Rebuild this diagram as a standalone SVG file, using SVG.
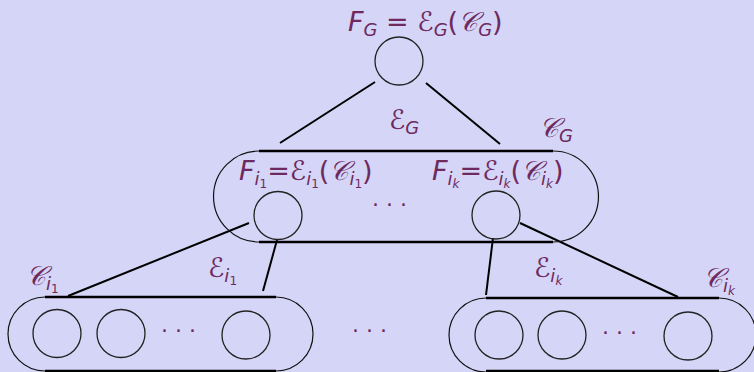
<svg xmlns="http://www.w3.org/2000/svg" width="754" height="372" viewBox="0 0 754 372">
<style>
.bg{fill:#d5d5f7}
.n{fill:none;stroke:#222;stroke-width:1.3}
.arc{fill:none;stroke:#111;stroke-width:1.2}
.thick{stroke:#000;stroke-width:2.6}
.e{stroke:#000;stroke-width:2;fill:none}
text{font-family:"DejaVu Sans","Liberation Sans",sans-serif;fill:#6e2a5e;font-style:oblique}
.m{font-size:27px}
.s{font-size:18px}
.ss{font-size:12px;font-style:normal}
.up{font-style:normal}
.dots{font-family:"DejaVu Sans",sans-serif;font-style:normal;font-size:22px}
</style>
<rect class="bg" x="0" y="0" width="754" height="372"/>
<g id="connectors">
<line class="e" x1="375" y1="82" x2="280" y2="143"/>
<line class="e" x1="426" y1="83" x2="500" y2="144"/>
<line class="e" x1="249" y1="223" x2="68" y2="296"/>
<line class="e" x1="277" y1="240" x2="263" y2="291"/>
<line class="e" x1="493" y1="238" x2="486" y2="295"/>
<line class="e" x1="520" y1="223" x2="678" y2="297"/>
</g>
<g id="root">
<circle class="n" cx="399" cy="61" r="24"/>
<text class="m" x="348" y="31">F<tspan class="s" dy="5">G</tspan><tspan dy="-5" class="up"> = </tspan>ℰ<tspan class="s" dy="5">G</tspan><tspan dy="-5" class="up">(</tspan>𝒞<tspan class="s" dy="5">G</tspan><tspan dy="-5" class="up">)</tspan></text>
</g>
<g id="label-EG"><text class="m" x="389" y="129">ℰ<tspan class="s" dy="5">G</tspan></text></g>
<g id="CG">
<path class="arc" d="M259,151 A45.5,45.5 0 0 0 259,242"/>
<path class="arc" d="M553,151 A45.5,45.5 0 0 1 553,242"/>
<line class="thick" x1="259" y1="151" x2="553" y2="151"/>
<line class="thick" x1="259" y1="242" x2="553" y2="242"/>
<text class="m" x="539" y="137">𝒞<tspan class="s" dy="5">G</tspan></text>
<text class="dots" x="372" y="212">· · ·</text>
</g>
<g id="Fi1">
<circle class="n" cx="278" cy="215.5" r="24"/>
<text class="m" x="239" y="180">F<tspan class="s" dy="5">i<tspan class="ss" dy="3">1</tspan></tspan><tspan dy="-8" class="up">=</tspan>ℰ<tspan class="s" dy="5">i<tspan class="ss" dy="3">1</tspan></tspan><tspan dy="-8" class="up">(</tspan>𝒞<tspan class="s" dy="5">i<tspan class="ss" dy="3">1</tspan></tspan><tspan dy="-8" class="up">)</tspan></text>
</g>
<g id="Fik">
<circle class="n" cx="496" cy="215" r="24"/>
<text class="m" x="432" y="180">F<tspan class="s" dy="5">i<tspan font-size="12" dy="3">k</tspan></tspan><tspan dy="-8" class="up">=</tspan>ℰ<tspan class="s" dy="5">i<tspan font-size="12" dy="3">k</tspan></tspan><tspan dy="-8" class="up">(</tspan>𝒞<tspan class="s" dy="5">i<tspan font-size="12" dy="3">k</tspan></tspan><tspan dy="-8" class="up">)</tspan></text>
</g>
<g id="Ci1">
<path class="arc" d="M45,297 A37,37 0 0 0 45,371"/>
<path class="arc" d="M276,297 A37,37 0 0 1 276,371"/>
<line class="thick" x1="45" y1="297" x2="276" y2="297"/>
<line class="thick" x1="45" y1="371" x2="276" y2="371"/>
<circle class="n" cx="57" cy="333.5" r="24"/>
<circle class="n" cx="121" cy="333.5" r="24"/>
<circle class="n" cx="246" cy="335" r="24"/>
<text class="dots" x="161" y="338">· · ·</text>
<text class="m" x="26" y="285">𝒞<tspan class="s" dy="5">i<tspan class="ss" dy="3">1</tspan></tspan></text>
</g>
<g id="label-Ei1"><text class="m" x="208" y="277">ℰ<tspan class="s" dy="5">i<tspan class="ss" dy="3">1</tspan></tspan></text></g>
<text class="dots" x="352" y="338">· · ·</text>
<g id="Cik">
<path class="arc" d="M486,298 A37,37 0 0 0 486,372"/>
<path class="arc" d="M719,298 A37,37 0 0 1 719,372"/>
<line class="thick" x1="486" y1="298" x2="719" y2="298"/>
<line class="thick" x1="486" y1="371" x2="719" y2="371"/>
<circle class="n" cx="499" cy="335" r="24"/>
<circle class="n" cx="562" cy="335" r="24"/>
<circle class="n" cx="688" cy="336" r="24"/>
<text class="dots" x="602" y="340">· · ·</text>
<text class="m" x="703" y="287">𝒞<tspan class="s" dy="5">i<tspan font-size="12" dy="3">k</tspan></tspan></text>
</g>
<g id="label-Eik"><text class="m" x="534" y="277">ℰ<tspan class="s" dy="5">i<tspan font-size="12" dy="3">k</tspan></tspan></text></g>
</svg>
